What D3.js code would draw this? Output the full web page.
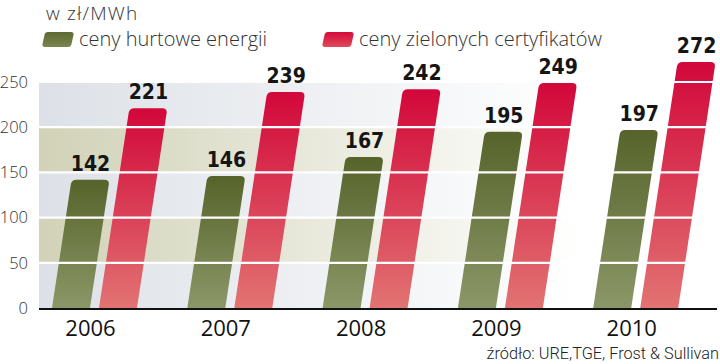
<!DOCTYPE html>
<html><head><meta charset="utf-8">
<script src="https://cdn.jsdelivr.net/npm/d3@7"></script>
<style>
html,body{margin:0;padding:0;background:#fff;}
svg{display:block;}
</style></head>
<body>
<svg id="chart" width="720" height="364"></svg>
<script>
const years = ["2006","2007","2008","2009","2010"];
const seriesNames = ["ceny hurtowe energii","ceny zielonych certyfikatów"];
const hurtowe = [142,146,167,195,197];
const zielone = [221,239,242,249,272];
const yTicks = [0,50,100,150,200,250];
const unitLabel = "w zł/MWh";
const sourceLabel = "źródło: URE,TGE, Frost & Sullivan";

const svg = d3.select("#chart");
const defs = svg.append("defs");

const plotLeft = 39, plotRight = 720;
const y = d3.scaleLinear().domain([0,250]).range([308,82]);
const x0 = d3.scaleBand().domain(years).range([52,678.2]).paddingInner(0.372).paddingOuter(0).align(0);
const x1 = d3.scaleBand().domain([0,1]).range([0,x0.bandwidth()]).paddingInner(0.1915).paddingOuter(0);
const skew = 0.152, rad = 5;

function vgrad(id, top, bottom){
  const g = defs.append("linearGradient").attr("id",id).attr("x1",0).attr("y1",0).attr("x2",0).attr("y2",1);
  g.append("stop").attr("offset","0%").attr("stop-color",top);
  g.append("stop").attr("offset","100%").attr("stop-color",bottom);
}
vgrad("gGreen","#56632a","#8c9768");
vgrad("gRed","#d2073a","#e27372");
vgrad("gGreenL","#5d6a2f","#7a8550");
vgrad("gRedL","#d40a3b","#e04a5a");
function hgrad(id, c){
  const g = defs.append("linearGradient").attr("id",id).attr("gradientUnits","userSpaceOnUse")
    .attr("x1",plotLeft).attr("y1",0).attr("x2",580).attr("y2",0);
  g.append("stop").attr("offset","0%").attr("stop-color",c);
  g.append("stop").attr("offset","100%").attr("stop-color","#ffffff");
}
hgrad("bandGray","#dde1e7");
hgrad("bandBeige","#d1d2b7");

const bands = d3.pairs(yTicks);
svg.append("g").selectAll("rect").data(bands).join("rect")
  .attr("x",plotLeft).attr("width",plotRight-plotLeft)
  .attr("y",d=>y(d[1])).attr("height",d=>y(d[0])-y(d[1]))
  .attr("fill",(d,i)=> i%2===0 ? "url(#bandGray)" : "url(#bandBeige)");

function barPath(xb, w, v){
  const yb = y(0), yt = y(v), h = yb - yt, s = skew*h;
  const r = rad;
  const p = d3.path();
  p.moveTo(xb, yb);
  p.lineTo(xb + s - skew*r, yt + r);
  p.quadraticCurveTo(xb + s, yt, xb + s + r, yt);
  p.lineTo(xb + w + s - r, yt);
  p.quadraticCurveTo(xb + w + s, yt, xb + w + s - skew*r, yt + r);
  p.lineTo(xb + w, yb);
  p.closePath();
  return p.toString();
}

const data = [];
years.forEach((yr,i)=>{
  data.push({year:yr, s:0, v:hurtowe[i]});
  data.push({year:yr, s:1, v:zielone[i]});
});

svg.append("g").selectAll("path").data(data).join("path")
  .attr("d",d=>barPath(x0(d.year)+x1(d.s), x1.bandwidth(), d.v))
  .attr("fill",d=> d.s===0 ? "url(#gGreen)" : "url(#gRed)");

svg.append("g").selectAll("line").data(yTicks.filter(t=>t>0)).join("line")
  .attr("x1",plotLeft).attr("x2",plotRight)
  .attr("y1",d=>y(d)).attr("y2",d=>y(d))
  .attr("stroke","#ffffff").attr("stroke-width",2.2);

svg.append("g").selectAll("text").data(data).join("text")
  .attr("x",d=> x0(d.year)+x1(d.s)+x1.bandwidth()/2 + skew*(y(0)-y(d.v)))
  .attr("y",d=> y(d.v)-9)
  .attr("text-anchor","middle")
  .attr("font-family","'DejaVu Sans Condensed','DejaVu Sans',sans-serif")
  .attr("font-stretch","condensed")
  .attr("font-weight","bold")
  .attr("font-size",21)
  .attr("fill","#151515")
  .text(d=>d.v);

svg.append("line").attr("x1",plotLeft).attr("x2",717).attr("y1",y(0)+1).attr("y2",y(0)+1)
  .attr("stroke","#111").attr("stroke-width",2);

const yAxis = d3.axisLeft(y).tickValues(yTicks).tickSize(0).tickPadding(0);
const ya = svg.append("g").attr("transform","translate(28,0)").call(yAxis);
ya.select(".domain").remove();
ya.selectAll("text").attr("font-family","'Open Sans',sans-serif").attr("font-size",16.5)
  .attr("fill","#333").attr("font-weight",300);

svg.append("g").selectAll("text").data(years).join("text")
  .attr("x",d=>x0(d)+x0.bandwidth()/2-4)
  .attr("y",336)
  .attr("text-anchor","middle")
  .attr("font-family","'Open Sans',sans-serif")
  .attr("font-size",22)
  .attr("fill","#111")
  .text(d=>d);

svg.append("text").attr("x",46).attr("y",19.5)
  .attr("font-family","'Open Sans',sans-serif").attr("font-weight",300).attr("font-size",19)
  .attr("letter-spacing",1.2)
  .attr("fill","#333").text(unitLabel);

function swatch(x){
  const w=29,s=3,r=3;
  const yt=32, yb=47;
  const p=d3.path();
  p.moveTo(x+r, yb);
  p.lineTo(x+w-r, yb);
  p.quadraticCurveTo(x+w, yb, x+w+0.5, yb-r);
  p.lineTo(x+w+s-0.5, yt+r);
  p.quadraticCurveTo(x+w+s, yt, x+w+s-r, yt);
  p.lineTo(x+s+r, yt);
  p.quadraticCurveTo(x+s, yt, x+s-0.5, yt+r);
  p.lineTo(x+0.5, yb-r);
  p.quadraticCurveTo(x, yb, x+r, yb);
  p.closePath();
  return p.toString();
}
const legendX = [42, 322];
const legendFill = ["url(#gGreenL)","url(#gRedL)"];
const lg = svg.append("g").selectAll("g").data(seriesNames).join("g");
lg.append("path").attr("d",(d,i)=>swatch(legendX[i])).attr("fill",(d,i)=>legendFill[i]);
lg.append("text").attr("x",(d,i)=>legendX[i]+37).attr("y",46)
  .attr("font-family","'Open Sans',sans-serif").attr("font-weight",300).attr("font-size",20)
  .attr("fill","#333").text(d=>d);

svg.append("text").attr("x",719).attr("y",359).attr("text-anchor","end")
  .attr("font-family","Roboto,sans-serif").attr("font-weight",300).attr("font-size",16.3)
  .attr("fill","#222").text(sourceLabel);
</script>
</body></html>
